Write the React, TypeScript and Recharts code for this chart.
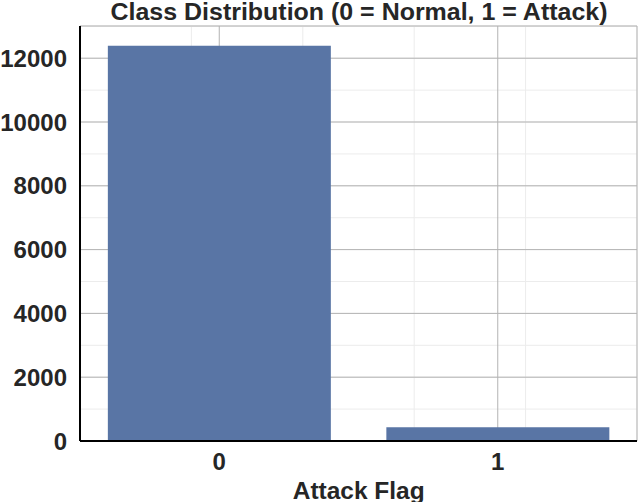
import React from "react";
import {
  BarChart,
  Bar,
  XAxis,
  YAxis,
  CartesianGrid,
} from "recharts";

const categories = ["0", "1"];
const counts = [12390, 430];
const yMajorTicks = [0, 2000, 4000, 6000, 8000, 10000, 12000];
const yMinorTicks = [
  0, 500, 1000, 1500, 2000, 2500, 3000, 3500, 4000, 4500, 5000, 5500, 6000,
  6500, 7000, 7500, 8000, 8500, 9000, 9500, 10000, 10500, 11000, 11500, 12000,
  12500, 13000,
];
const xMinorTicks = [-0.4, -0.2, 0, 0.2, 0.4, 0.6, 0.8, 1, 1.2, 1.4];
const yMax = 13010;
const titleText = "Class Distribution (0 = Normal, 1 = Attack)";
const xLabelText = "Attack Flag";

const data = categories.map((c, i) => ({ label: c, count: counts[i] }));

const FONT = "'Liberation Sans', Arial, Helvetica, sans-serif";
const TEXT = "#262626";

export default function App() {
  return (
    <div
      style={{
        position: "absolute",
        left: 0,
        top: 0,
        width: 640,
        height: 502,
        background: "#fff",
        overflow: "hidden",
        fontFamily: FONT,
      }}
    >
      <BarChart
        width={640}
        height={502}
        data={data}
        margin={{ top: 26, right: 3, left: 0, bottom: 0 }}
        barCategoryGap="10%"
      >
        <XAxis
          xAxisId="minor"
          type="number"
          domain={[-0.5, 1.5]}
          ticks={xMinorTicks}
          allowDataOverflow
          hide
        />
        <YAxis
          yAxisId="minor"
          type="number"
          domain={[0, yMax]}
          ticks={yMinorTicks}
          allowDataOverflow
          hide
        />
        <CartesianGrid
          xAxisId="minor"
          yAxisId="minor"
          stroke="#ececec"
          strokeWidth={1}
        />
        <CartesianGrid
          xAxisId="cat"
          yAxisId="left"
          stroke="#b3b3b3"
          strokeWidth={1}
        />
        <XAxis
          xAxisId="cat"
          dataKey="label"
          height={61}
          tickLine={false}
          tickSize={6}
          tickMargin={6}
          axisLine={{ stroke: "#000", strokeWidth: 2 }}
          tick={{
            fill: TEXT,
            fontSize: 24,
            fontWeight: 700,
            fontFamily: FONT,
          }}
        />
        <XAxis
          xAxisId="top"
          dataKey="label"
          orientation="top"
          height={0}
          tick={false}
          tickLine={false}
          axisLine={{ stroke: "#000", strokeWidth: 2 }}
        />
        <YAxis
          yAxisId="left"
          type="number"
          domain={[0, yMax]}
          ticks={yMajorTicks}
          width={80}
          tickLine={false}
          tickSize={6}
          tickMargin={7}
          axisLine={{ stroke: "#000", strokeWidth: 2 }}
          tick={{
            fill: TEXT,
            fontSize: 24,
            fontWeight: 700,
            fontFamily: FONT,
          }}
        />
        <YAxis
          yAxisId="right"
          orientation="right"
          type="number"
          domain={[0, yMax]}
          width={0}
          tick={false}
          tickLine={false}
          axisLine={{ stroke: "#000", strokeWidth: 2 }}
        />
        <Bar
          xAxisId="cat"
          yAxisId="left"
          dataKey="count"
          fill="#5975a5"
          isAnimationActive={false}
        />
      </BarChart>
      <div
        style={{
          position: "absolute",
          left: 80,
          width: 557,
          top: 1,
          textAlign: "center",
          fontSize: 23,
          lineHeight: "22px",
          fontWeight: 700,
          color: TEXT,
          whiteSpace: "nowrap",
        }}
      >
        <span style={{ display: "inline-block", transform: "scaleX(1.085)" }}>
          {titleText}
        </span>
      </div>
      <div
        style={{
          position: "absolute",
          left: 80,
          width: 557,
          top: 479,
          textAlign: "center",
          fontSize: 24,
          lineHeight: "24px",
          fontWeight: 700,
          color: TEXT,
          whiteSpace: "nowrap",
        }}
      >
        <span style={{ display: "inline-block", transform: "scaleX(1.02)" }}>
          {xLabelText}
        </span>
      </div>
    </div>
  );
}
